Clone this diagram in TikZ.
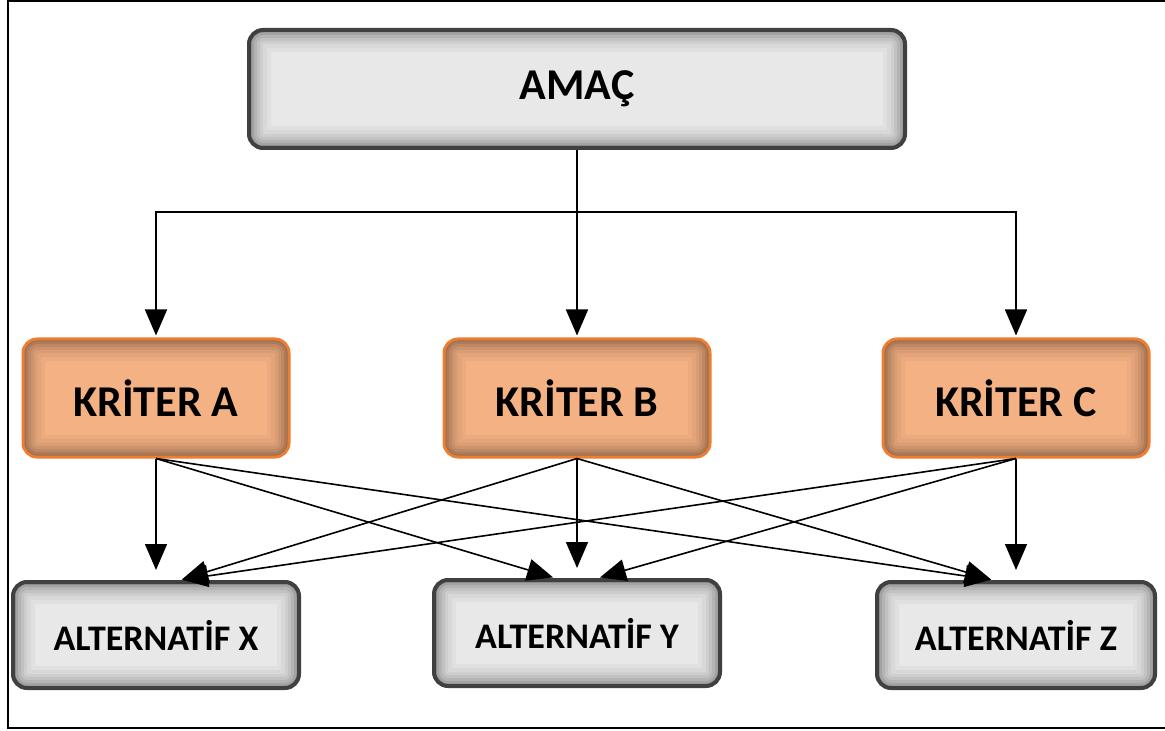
\documentclass[tikz,border=0pt]{standalone}
\usepackage{fontspec}
\setmainfont{Carlito}
\usetikzlibrary{calc,positioning,arrows.meta}
\definecolor{turuncu}{HTML}{F4B183}
\definecolor{turuncuk}{HTML}{ED7D31}
\definecolor{gri}{HTML}{E8E8E8}
\definecolor{grik}{HTML}{404040}
\tikzset{
  glow/.style={path picture={
    \foreach \w/\o in {22pt/0.03,18pt/0.035,14pt/0.045,11pt/0.055,8pt/0.07,5pt/0.09,2.5pt/0.12}
      \draw[line width=\w,draw opacity=\o,black,rounded corners=7pt]
        (path picture bounding box.south west) rectangle (path picture bounding box.north east);
    }
  },
  amacbox/.style={rectangle, draw=grik, line width=2pt, fill=gri, glow, rounded corners=7pt, inner sep=0pt, minimum width=328pt, minimum height=59pt, font=\bfseries\fontsize{22}{26}\selectfont},
  kriter/.style={rectangle, draw=turuncuk, line width=1.5pt, fill=turuncu, glow, rounded corners=7pt, inner sep=0pt, minimum width=133pt, minimum height=59pt, font=\bfseries\fontsize{22}{26}\selectfont},
  alt/.style={rectangle, draw=grik, line width=2pt, fill=gri, glow, rounded corners=7pt, inner sep=0pt, minimum width=143pt, minimum height=53pt, font=\bfseries\fontsize{18}{21}\selectfont},
  line/.style={draw, line width=0.8pt, -{Triangle[width=11pt,length=13pt]}, shorten >=1pt},
}
\begin{document}
\begin{tikzpicture}[x=0.5pt,y=-0.5pt]
    \useasboundingbox (0,0) rectangle (1165,731);
    \begin{scope}
      \clip (0,0) rectangle (1165,731);
      \draw[line width=1pt] (8,1) rectangle (1190,728);
    \end{scope}

    \node[amacbox] (amac) at (577,89) {AMAÇ};

    \node[kriter] (kA) at (156,398) {KRİTER A};
    \node[kriter] (kB) at (577,398) {KRİTER B};
    \node[kriter] (kC) at (1016,398) {KRİTER C};

    \node[alt] (altX) at (156,635) {ALTERNATİF X};
    \node[alt] (altY) at (577,633) {ALTERNATİF Y};
    \node[alt,minimum width=139pt] (altZ) at (1016,635) {ALTERNATİF Z};

    \coordinate (bar) at (577,212);

    \begin{scope} [every path/.style=line]
      \path (amac.south) -- (kB.north);
      \path (bar) -| (kA.north);
      \path (bar) -| (kC.north);

      \path (kA.south) -- ([yshift=4pt]altX.north);
      \path (kA.south) -- ([xshift=-11pt]altY.north);
      \path (kA.south) -- ([xshift=-11.5pt]altZ.north);
      \path (kB.south) -- ([xshift=12pt]altX.north);
      \path (kB.south) -- ([yshift=4pt]altY.north);
      \path (kB.south) -- ([xshift=-11.5pt]altZ.north);
      \path (kC.south) -- ([xshift=12pt]altX.north);
      \path (kC.south) -- ([xshift=10.5pt]altY.north);
      \path (kC.south) -- ([yshift=4pt]altZ.north);
    \end{scope}
\end{tikzpicture}
\end{document}
